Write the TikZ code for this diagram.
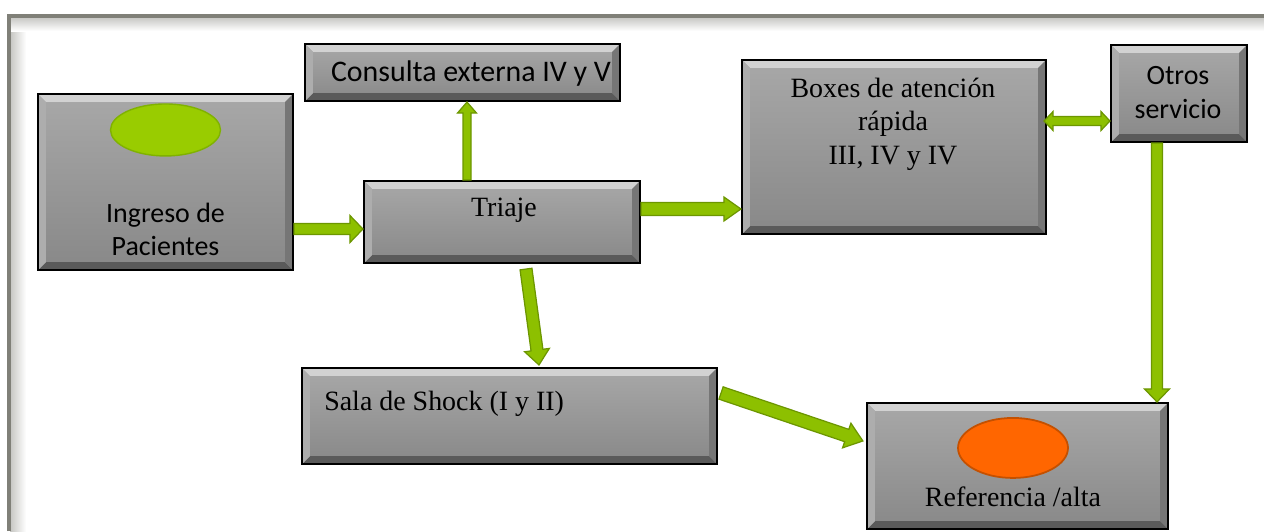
\documentclass[tikz,border=0pt]{standalone}
\usepackage{fontspec}
\setmainfont{Liberation Serif}
\newfontfamily\calibri{Carlito}
\usetikzlibrary{calc}

\definecolor{arrowfill}{RGB}{141,192,0}
\definecolor{arrowedge}{RGB}{108,150,0}
\definecolor{limefill}{RGB}{153,204,0}
\definecolor{limeedge}{RGB}{128,178,0}
\definecolor{orangefill}{RGB}{255,102,0}
\definecolor{orangeedge}{RGB}{196,80,0}
\definecolor{facetop}{RGB}{168,168,168}
\definecolor{facebot}{RGB}{136,136,136}
\definecolor{beveltop}{RGB}{210,210,210}
\definecolor{bevelside}{RGB}{118,118,118}
\definecolor{bevelbot}{RGB}{90,90,90}
\definecolor{framegray}{RGB}{128,128,120}

% bevel inside every box
\newcommand{\bevel}{%
  \path (path picture bounding box.north west) coordinate (o1)
        (path picture bounding box.north east) coordinate (o2)
        (path picture bounding box.south east) coordinate (o3)
        (path picture bounding box.south west) coordinate (o4);
  \path ([shift={(4.5pt,-4.5pt)}]o1) coordinate (i1)
        ([shift={(-4.5pt,-4.5pt)}]o2) coordinate (i2)
        ([shift={(-4.5pt,4.5pt)}]o3) coordinate (i3)
        ([shift={(4.5pt,4.5pt)}]o4) coordinate (i4);
  \fill[beveltop] (o1) -- (o2) -- (i2) -- (i1) -- cycle;
  \fill[bevelbot] (o4) -- (o3) -- (i3) -- (i4) -- cycle;
  \fill[bevelside!60!white] (o1) -- (i1) -- (i4) -- (o4) -- cycle;
  \fill[bevelside] (o2) -- (i2) -- (i3) -- (o3) -- cycle;
}

% fat green arrow: from, to, shaft half width, head half width, head length (px)
\newcommand{\fatarrow}[5]{%
  \path[arrowbody] let \p1=(#1), \p2=(#2),
      \n1={atan2(\y2-\y1,\x2-\x1)}, \n2={veclen(\x2-\x1,\y2-\y1)} in
    [shift={(\p1)}, rotate=\n1]
    (0pt,{-#3*0.569pt}) -- ({\n2-#5*0.569pt},{-#3*0.569pt})
    -- ({\n2-#5*0.569pt},{-#4*0.569pt}) -- (\n2,0pt)
    -- ({\n2-#5*0.569pt},{#4*0.569pt}) -- ({\n2-#5*0.569pt},{#3*0.569pt})
    -- (0pt,{#3*0.569pt}) -- cycle;
}
% same with a head at both ends
\newcommand{\fatdarrow}[5]{%
  \path[arrowbody] let \p1=(#1), \p2=(#2),
      \n1={atan2(\y2-\y1,\x2-\x1)}, \n2={veclen(\x2-\x1,\y2-\y1)} in
    [shift={(\p1)}, rotate=\n1]
    (0pt,0pt) -- ({#5*0.569pt},{-#4*0.569pt}) -- ({#5*0.569pt},{-#3*0.569pt})
    -- ({\n2-#5*0.569pt},{-#3*0.569pt}) -- ({\n2-#5*0.569pt},{-#4*0.569pt})
    -- (\n2,0pt) -- ({\n2-#5*0.569pt},{#4*0.569pt}) -- ({\n2-#5*0.569pt},{#3*0.569pt})
    -- ({#5*0.569pt},{#3*0.569pt}) -- ({#5*0.569pt},{#4*0.569pt}) -- cycle;
}

\tikzset{
  stage/.style 2 args={draw=black, line width=1.2pt, top color=facetop, bottom color=facebot,
    minimum width={#1*0.02cm}, minimum height={#2*0.02cm}, inner sep=0pt, path picture={\bevel}},
  lbl/.style={inner sep=0pt, align=center, font=\fontsize{15.9}{19}\selectfont},
  sanslbl/.style={lbl, font=\calibri\fontsize{15.9}{19}\selectfont},
  arrowbody/.style={draw=arrowedge, fill=arrowfill, line width=0.7pt, line join=miter},
}

\begin{document}
\begin{tikzpicture}[x=0.02cm, y=-0.02cm]
\useasboundingbox (0,0) rectangle (1264,531);

% picture frame
\shade[left color=framegray!45, right color=white] (10,17) rectangle (26,531);
\shade[top color=framegray!45, bottom color=white] (10,17) rectangle (1264,31);
\draw[framegray, line width=2pt] (9,531) -- (9,16) -- (1264,16);

% boxes
\node[stage={255}{176}] (ingreso) at (165.5,182) {};
\node[stage={315}{57}] (consulta) at (462.5,72.5) {};
\node[stage={276}{82}] (triaje) at (502,222) {};
\node[stage={304}{174}] (boxes) at (894,147) {};
\node[stage={136}{97}] (otros) at (1179,93.5) {};
\node[stage={415}{96}] (sala) at (509.5,416) {};
\node[stage={301}{126}] (referencia) at (1017.5,466) {};

% ovals
\filldraw[fill=limefill, draw=limeedge, line width=0.8pt]
  ($(ingreso.north)+(0,37)$) ellipse [x radius=1.1cm, y radius=0.52cm];
\filldraw[fill=orangefill, draw=orangeedge, line width=1pt]
  ($(referencia.north)+(-4.5,46)$) ellipse [x radius=1.1cm, y radius=0.6cm];

% texts
\node[sanslbl] (ingresotxt) at ($(ingreso.center)+(0,47.5)$) {Ingreso de\\Pacientes};
\node[sanslbl, font=\calibri\fontsize{17}{20}\selectfont] (consultatxt)
  at ($(consulta.center)+(8.5,1.5)$) {Consulta externa IV y V};
\node[lbl] (triajetxt) at ($(triaje.center)+(2,-12)$) {Triaje};
\node[lbl] (boxestxt) at ($(boxes.center)+(-1,-23)$) {Boxes de atención\\rápida\\III, IV y IV};
\node[sanslbl] (otrostxt) at ($(otros.center)+(-1,-1)$) {Otros\\servicio};
\node[lbl, anchor=west] (salatxt) at ($(sala.west)+(23,-12)$) {Sala de Shock (I y II)};
\node[lbl] (referenciatxt) at ($(referencia.center)+(-4.5,31)$) {Referencia /alta};

% arrows
\fatarrow{$(ingreso.east)+(0,47)$}{$(triaje.west)+(0,7)$}{5.5}{13.5}{13}
\fatarrow{$(triaje.north)+(-35,0)$}{$(consulta.south)+(4.5,0)$}{4}{9.5}{11}
\fatarrow{$(triaje.east)+(0,-13)$}{$(boxes.west)+(0,62)$}{6.5}{12}{17}
\fatdarrow{$(boxes.east)+(-3,-26)$}{$(otros.west)+(0,27.5)$}{4.5}{9.5}{9}
\fatarrow{$(otros.south)+(-22,0)$}{$(referencia.north)+(139.5,0)$}{5.5}{12.5}{13}
\fatarrow{$(triaje.south)+(24,5)$}{$(sala.north)+(29.5,-2)$}{6}{12.5}{15}
\fatarrow{$(sala.east)+(3,-23)$}{$(referencia.west)+(-3,-25)$}{6.5}{13}{17}
\end{tikzpicture}
\end{document}
